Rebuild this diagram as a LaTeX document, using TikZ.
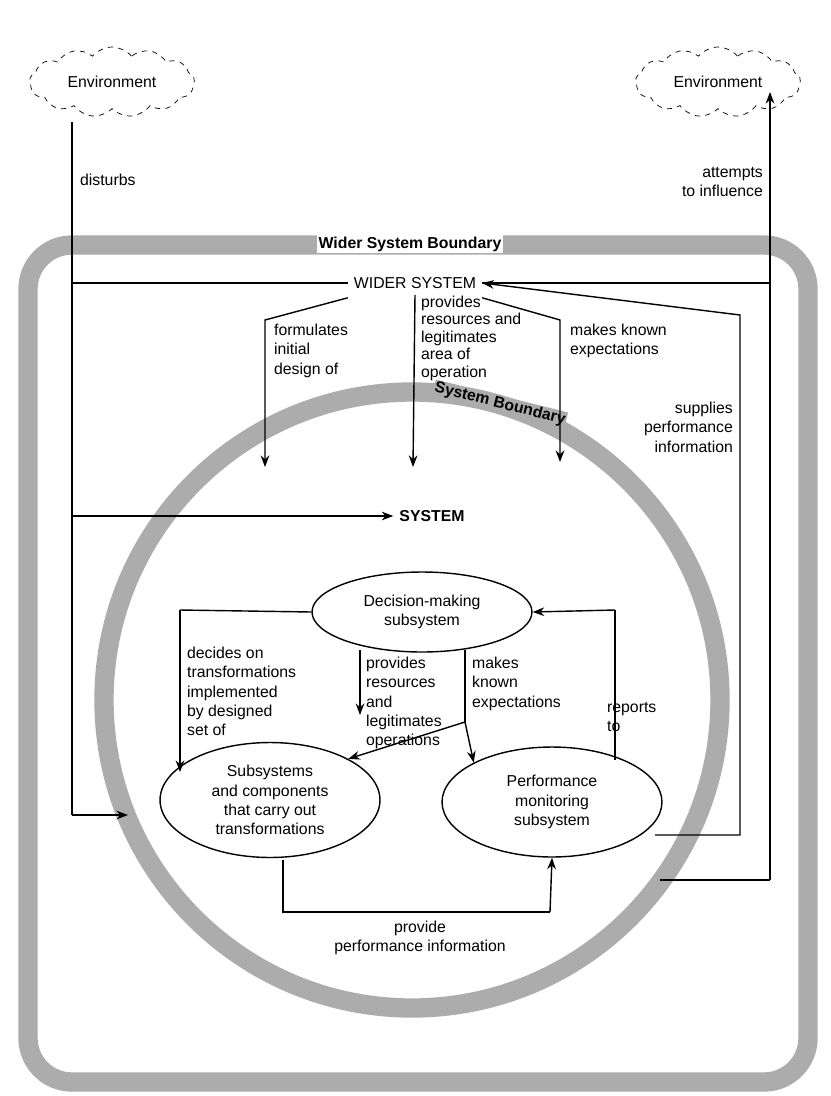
\documentclass[tikz,border=0pt]{standalone}
\usepackage{fontspec}
\setmainfont{Liberation Sans}
\usetikzlibrary{shapes.geometric, shapes.symbols, arrows.meta, positioning}

\begin{document}
\begin{tikzpicture}[
    x=0.02cm, y=-0.02cm,
    font=\small,
    env/.style={cloud, cloud puffs=13, cloud puff arc=100, aspect=2.4, draw=black, dashed, inner sep=0pt, minimum width=3.3cm, minimum height=1.4cm, align=center},
    subsys/.style={ellipse, draw=black, thick, fill=white, align=center, minimum width=4.4cm},
    lbl/.style={align=left, anchor=north west, font=\small, inner sep=1pt},
    boundary/.style={draw=gray!65, line width=11pt},
    arrow/.style={thick,->,>=Stealth}
    ]
    \useasboundingbox (0,0) rectangle (831,1096);

    % Boundaries
    \draw [boundary, rounded corners=25pt] (28,245) rectangle (808,1082);
    \node (wsb) [fill=white, font=\small\bfseries, inner sep=1pt] at (410,244) {Wider System Boundary};
    \draw [boundary] (412,700) circle [radius=308];
    \node (sb) [fill=gray!65, font=\small\bfseries, inner sep=0.5pt, rotate=-14] at (500,404) {System Boundary};

    % Environments
    \node (envl) [env] at (112,82) {Environment};
    \node (envr) [env] at (718,82) {Environment};

    % Systems
    \node (wider) [fill=white] at (415,283) {WIDER SYSTEM};
    \node (system) [font=\small\bfseries] at (432,516) {SYSTEM};
    \node (dms) [subsys, minimum height=1.6cm] at (422,612) {Decision-making\\subsystem};
    \node (sub) [subsys, minimum height=2.3cm] at (270,800) {Subsystems\\and components\\that carry out\\transformations};
    \node (pms) [subsys, minimum height=2.2cm] at (552,802) {Performance\\monitoring\\subsystem};

    % Coordinates
    \coordinate (l0) at (72,122);
    \coordinate (l1) at (72,283);
    \coordinate (l2) at (72,516);
    \coordinate (l3) at (72,815);
    \coordinate (c3) at (128,815);
    \coordinate (r0) at (770,880);
    \coordinate (r1) at (660,880);
    \coordinate (r2) at (770,283);
    \coordinate (s0) at (655,835);
    \coordinate (s1) at (740,835);
    \coordinate (s2) at (740,315);
    \coordinate (d0) at (180,610);
    \coordinate (d1) at (180,772);
    \coordinate (m0) at (465,650);
    \coordinate (m1) at (465,722);
    \coordinate (p0) at (615,760);
    \coordinate (p1) at (615,610);
    \coordinate (b0) at (283,860);
    \coordinate (b1) at (283,912);
    \coordinate (b2) at (550,912);
    \coordinate (w0) at (265,320);
    \coordinate (w1) at (560,320);

    % Environment lines
    \draw [thick] (l0) -- (l3);
    \draw [arrow] (l3) -- (c3);
    \draw [thick] (l1) -- (wider.west);
    \draw [arrow] (l2) -- (system.west);
    \draw [thick] (r1) -- (r0);
    \draw [arrow] (r0) -- (770,92);
    \draw [thick] (r2) -- (wider.east);
    \draw [arrow] (s0) -- (s1) -- (s2) -- (wider.east);

    % Wider system arrows
    \draw [arrow] (wider.south west) ++(0,3) -- (w0) -- (265,467);
    \draw [arrow] (wider.south) -- (413,467);
    \draw [arrow] (wider.south east) ++(0,3) -- (w1) -- (560,462);

    % Internal arrows
    \draw [thick] (dms.west) -- (d0);
    \draw [arrow] (d0) -- (d1);
    \draw [arrow] (360,650) -- (360,715);
    \draw [thick] (m0) -- (m1);
    \draw [arrow] (m1) -- (sub.north east);
    \draw [arrow] (m1) -- (pms.north west);
    \draw [thick] (p0) -- (p1);
    \draw [arrow] (p1) -- (dms.east);
    \draw [thick] (b0) -- (b1) -- (b2);
    \draw [arrow] (b2) -- (pms.south);

    % Labels
    \node [lbl] at (78,172) {disturbs};
    \node [lbl, align=right, anchor=north east] at (765,165) {attempts\\to influence};
    \node [lbl] at (272,322) {formulates\\initial\\design of};
    \node [lbl, font=\small\linespread{0.9}\selectfont] at (419,294) {provides\\resources and\\legitimates\\area of\\operation};
    \node [lbl] at (568,322) {makes known\\expectations};
    \node [lbl, align=right, anchor=north east] at (735,400) {supplies\\performance\\information};
    \node [lbl] at (185,645) {decides on\\transformations\\implemented\\by designed\\set of};
    \node [lbl] at (364,655) {provides\\resources\\and\\legitimates\\operations};
    \node [lbl] at (470,655) {makes\\known\\expectations};
    \node [lbl] at (605,700) {reports\\to};
    \node [align=center, font=\small] at (420,938) {provide\\performance information};
\end{tikzpicture}
\end{document}
